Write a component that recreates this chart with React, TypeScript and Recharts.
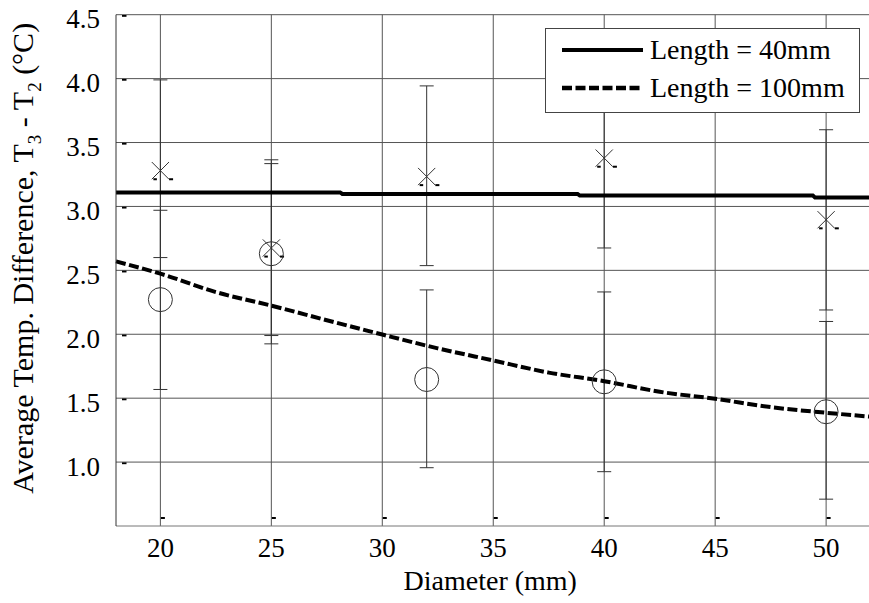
import React from 'react';
import { ComposedChart, Line, Scatter, XAxis, YAxis, CartesianGrid, ErrorBar, Legend } from 'recharts';

const FONT = 'Liberation Serif';

const xTicks = [20, 25, 30, 35, 40, 45, 50];
const yTicks = [1.0, 1.5, 2.0, 2.5, 3.0, 3.5, 4.0, 4.5];

const diameters = [20, 25, 32, 40, 50];
const len40Mean = [3.28, 2.675, 3.234, 3.378, 2.896];
const len40Low = [2.6, 1.99, 2.537, 2.675, 2.19];
const len40High = [3.99, 3.365, 3.943, 4.083, 3.6];
const len100Mean = [2.271, 2.63, 1.646, 1.628, 1.394];
const len100Low = [1.568, 1.925, 0.956, 0.925, 0.71];
const len100High = [2.97, 3.335, 2.347, 2.331, 2.1];

const fit40X = [18, 28.1, 28.2, 38.8, 38.9, 49.4, 49.5, 52];
const fit40Y = [3.11, 3.11, 3.098, 3.098, 3.085, 3.085, 3.07, 3.07];
const fit100X = [18, 20, 22.5, 25, 27.5, 30, 32.5, 35, 37.5, 40, 42.5, 45, 47.5, 50, 52];
const fit100Y = [2.57, 2.474, 2.33, 2.224, 2.11, 1.998, 1.89, 1.795, 1.7, 1.633, 1.55, 1.495, 1.43, 1.386, 1.355];

const seriesNames = ['Length = 40mm', 'Length = 100mm'];

const fit40Data = fit40X.map((x, i) => ({ x, y: fit40Y[i] }));
const fit100Data = fit100X.map((x, i) => ({ x, y: fit100Y[i] }));
const meas40Data = diameters.map((x, i) => ({ x, y: len40Mean[i], err: [len40Mean[i] - len40Low[i], len40High[i] - len40Mean[i]] }));
const meas100Data = diameters.map((x, i) => ({ x, y: len100Mean[i], err: [len100Mean[i] - len100Low[i], len100High[i] - len100Mean[i]] }));

const BottomTick = (p: any) => {
  const { x, y, payload } = p;
  return (
    <g>
      <rect x={x + 0.5} y={y - 9} width={4} height={2} fill="#000" />
      <text x={x} y={y + 12} dy="0.71em" textAnchor="middle" fontSize={27} fontFamily={FONT} fill="#000">
        {payload.value}
      </text>
    </g>
  );
};

const TopTick = (p: any) => {
  const { x, y } = p;
  return (
    <g>
      <rect x={x + 0.7} y={y} width={4} height={2} fill="#000" />
      <rect x={x + 0.7} y={y + 5.5} width={4} height={2.3} fill="#000" />
    </g>
  );
};

const LeftTick = (p: any) => {
  const { x, y, payload } = p;
  return (
    <g>
      <rect x={x + 6} y={y + 0.3} width={4.5} height={1.8} fill="#000" />
      <text x={x - 16} y={y + 4} dy="0.355em" textAnchor="end" fontSize={27} fontFamily={FONT} fill="#000">
        {Number(payload.value).toFixed(1)}
      </text>
    </g>
  );
};

const RightTick = (p: any) => {
  const { x, y } = p;
  return <rect x={x - 5.5} y={y + 0.3} width={4.5} height={1.8} fill="#000" />;
};

const CrossMarker = (p: any) => {
  const { cx, cy } = p;
  if (cx == null || cy == null) return null;
  const h = 8.6;
  return (
    <g>
      <line x1={cx - h} y1={cy - h} x2={cx + h} y2={cy + h} stroke="#333" strokeWidth={1} />
      <line x1={cx + h} y1={cy - h} x2={cx - h} y2={cy + h} stroke="#333" strokeWidth={1} />
      <rect x={cx - 7} y={cy + 7.6} width={3.5} height={2} fill="#000" />
      <rect x={cx + 8.7} y={cy + 7.6} width={4} height={2} fill="#000" />
    </g>
  );
};

const CircleMarker = (p: any) => {
  const { cx, cy } = p;
  if (cx == null || cy == null) return null;
  return <circle cx={cx} cy={cy} r={12} fill="none" stroke="#333" strokeWidth={1} />;
};

const lineDash = ['', '10 3.5'];

const LegendBox = (p: any) => {
  const payload = (p.payload || []).filter((e: any) => seriesNames.includes(e.value));
  return (
    <div
      style={{
        position: 'relative',
        boxSizing: 'border-box',
        width: 315,
        height: 85,
        border: '1px solid #444',
        background: '#fff',
        fontFamily: FONT,
        fontSize: 28,
        color: '#000',
      }}
    >
      {payload.map((e: any, i: number) => {
        const idx = seriesNames.indexOf(e.value);
        return (
          <div key={i} style={{ position: 'absolute', left: 0, top: idx === 0 ? 3 : 41, height: 36, width: 313 }}>
            <svg width={100} height={36} style={{ position: 'absolute', left: 0, top: 0 }}>
              <line x1={16} y1={18} x2={97} y2={18} stroke="#000" strokeWidth={idx === 0 ? 4 : 4.7} strokeDasharray={lineDash[idx] || undefined} />
            </svg>
            <span style={{ position: 'absolute', left: 104, top: 0, lineHeight: '36px', whiteSpace: 'nowrap' }}>{e.value}</span>
          </div>
        );
      })}
    </div>
  );
};

const YTitle = (props: any) => {
  const vb = props.viewBox || { x: 0, y: 0, width: 0, height: 0 };
  const cx = vb.x + 33;
  const cy = vb.y + vb.height / 2 - 12;
  return (
    <text x={cx} y={cy} transform={`rotate(-90, ${cx}, ${cy})`} textAnchor="middle" fontFamily={FONT} fontSize={30} fill="#000">
      <tspan>Average Temp. Difference, T</tspan>
      <tspan fontSize={19} dy={8}>3</tspan>
      <tspan dy={-8}> - T</tspan>
      <tspan fontSize={19} dy={8}>2</tspan>
      <tspan dy={-8}> (°C)</tspan>
    </text>
  );
};

const XTitle = (props: any) => {
  const vb = props.viewBox || { x: 0, y: 0, width: 0, height: 0 };
  return (
    <text x={vb.x + vb.width / 2 - 3} y={vb.y + 64} textAnchor="middle" fontFamily={FONT} fontSize={28} fill="#000">
      Diameter (mm)
    </text>
  );
};

export default function App() {
  return (
    <div style={{ position: 'absolute', left: 0, top: 0, width: 869, height: 603, overflow: 'hidden', background: '#fff', fontFamily: FONT }}>
      <ComposedChart width={875} height={603} margin={{ top: 14.7, right: 4.5, bottom: 0, left: 0 }} style={{ fontFamily: FONT }}>
        <CartesianGrid stroke="#555" strokeWidth={1} horizontalValues={yTicks} verticalValues={xTicks} />
        <XAxis xAxisId={0} type="number" dataKey="x" domain={[18, 52]} ticks={xTicks} interval={0} height={77} tickSize={0} tickMargin={0}
          axisLine={{ stroke: '#777', strokeWidth: 1 }} tickLine={false} tick={<BottomTick />} label={<XTitle />} />
        <XAxis xAxisId="top" orientation="top" type="number" dataKey="x" domain={[18, 52]} ticks={xTicks} interval={0} height={0} tickSize={0} tickMargin={0}
          axisLine={{ stroke: '#333', strokeWidth: 1 }} tickLine={false} tick={<TopTick />} />
        <YAxis yAxisId={0} type="number" domain={[0.5, 4.5]} ticks={yTicks} interval={0} width={116} tickSize={0} tickMargin={0}
          axisLine={{ stroke: '#333', strokeWidth: 1 }} tickLine={false} tick={<LeftTick />} label={<YTitle />} />
        <YAxis yAxisId="right" orientation="right" type="number" domain={[0.5, 4.5]} ticks={yTicks} interval={0} width={0} tickSize={0} tickMargin={0}
          axisLine={{ stroke: '#333', strokeWidth: 1 }} tickLine={false} tick={<RightTick />} />
        <Legend layout="vertical" align="center" verticalAlign="middle" content={<LegendBox />}
          wrapperStyle={{ position: 'absolute', left: 545, top: 28, width: 315, height: 85, margin: 0, padding: 0 }} />
        <Scatter name="meas40" data={meas40Data} dataKey="y" legendType="none" shape={<CrossMarker />} isAnimationActive={false}>
          <ErrorBar dataKey="err" direction="y" width={7} stroke="#333" strokeWidth={1} isAnimationActive={false} />
        </Scatter>
        <Scatter name="meas100" data={meas100Data} dataKey="y" legendType="none" shape={<CircleMarker />} isAnimationActive={false}>
          <ErrorBar dataKey="err" direction="y" width={7} stroke="#333" strokeWidth={1} isAnimationActive={false} />
        </Scatter>
        <Line name={seriesNames[0]} data={fit40Data} dataKey="y" type="linear" stroke="#000" strokeWidth={4} dot={false} activeDot={false} isAnimationActive={false} />
        <Line name={seriesNames[1]} data={fit100Data} dataKey="y" type="monotone" stroke="#000" strokeWidth={4} strokeDasharray={lineDash[1]} dot={false} activeDot={false} isAnimationActive={false} />
      </ComposedChart>
    </div>
  );
}
